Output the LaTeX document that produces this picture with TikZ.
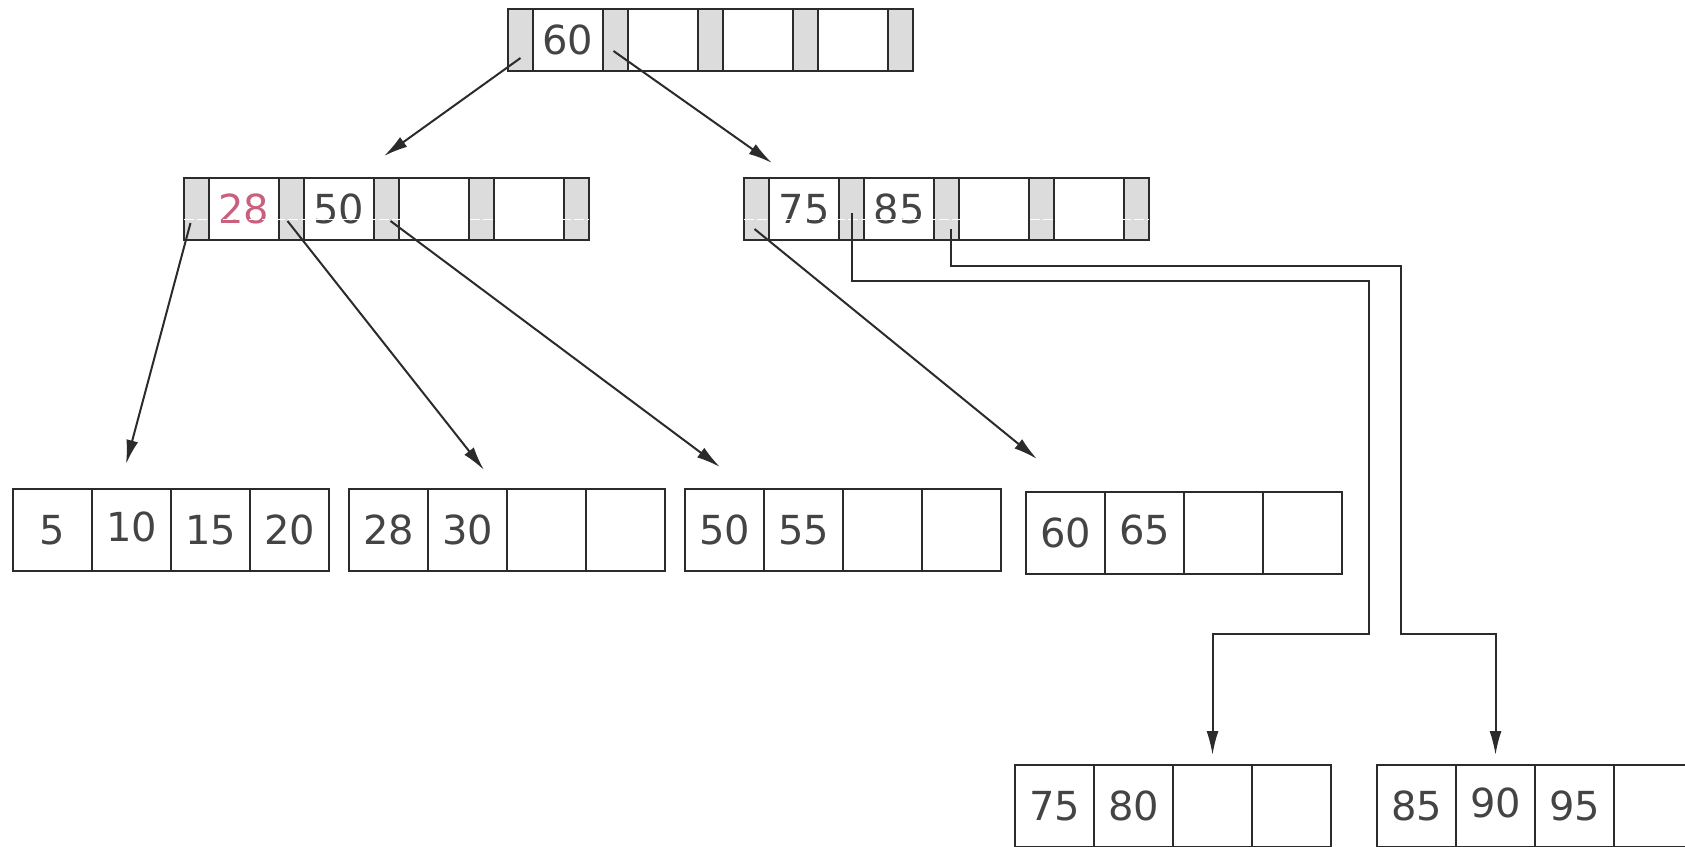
\documentclass[tikz,border=0pt]{standalone}
\usepackage{fontspec}
\newfontfamily\cellfont{DejaVu Sans}
\usepackage{xcolor}
\definecolor{PtrGray}{HTML}{DCDCDC}
\definecolor{LineGray}{HTML}{2B2B2B}
\definecolor{KeyText}{HTML}{444444}
\definecolor{SplitPink}{HTML}{C8607E}
\usetikzlibrary{arrows.meta,positioning}

\begin{document}
\begin{tikzpicture}[x=0.5pt,y=-0.5pt,>={Latex[length=12pt,width=6pt]},
cell/.style={draw=LineGray,line width=1pt,inner sep=0pt,outer sep=0pt,text=KeyText,font=\cellfont\fontsize{20}{24}\selectfont},
ptrcell/.style={cell,fill=PtrGray,minimum width=12.5pt,minimum height=31pt},
keycell/.style={cell,fill=white,minimum width=35pt,minimum height=31pt},
leafcell/.style={cell,fill=white,minimum width=39.5pt,minimum height=41pt},
ptr/.style={->,draw=LineGray,line width=1pt}]
\useasboundingbox (0,0) rectangle (1685,846);
% root
\node[ptrcell,anchor=north west] (r-p0) at (508,9) {};
\node[keycell,right=0pt of r-p0] (r-k1) {60};
\node[ptrcell,right=0pt of r-k1] (r-p1) {};
\node[keycell,right=0pt of r-p1] (r-k2) {};
\node[ptrcell,right=0pt of r-k2] (r-p2) {};
\node[keycell,right=0pt of r-p2] (r-k3) {};
\node[ptrcell,right=0pt of r-k3] (r-p3) {};
\node[keycell,right=0pt of r-p3] (r-k4) {};
\node[ptrcell,right=0pt of r-k4] (r-p4) {};
% inner nodes
\node[ptrcell,anchor=north west] (a-p0) at (184,178) {};
\node[keycell,text=SplitPink,right=0pt of a-p0] (a-k1) {28};
\node[ptrcell,right=0pt of a-k1] (a-p1) {};
\node[keycell,right=0pt of a-p1] (a-k2) {50};
\node[ptrcell,right=0pt of a-k2] (a-p2) {};
\node[keycell,right=0pt of a-p2] (a-k3) {};
\node[ptrcell,right=0pt of a-k3] (a-p3) {};
\node[keycell,right=0pt of a-p3] (a-k4) {};
\node[ptrcell,right=0pt of a-k4] (a-p4) {};
\node[ptrcell,anchor=north west] (b-p0) at (744,178) {};
\node[keycell,right=0pt of b-p0] (b-k1) {75};
\node[ptrcell,right=0pt of b-k1] (b-p1) {};
\node[keycell,right=0pt of b-p1] (b-k2) {85};
\node[ptrcell,right=0pt of b-k2] (b-p2) {};
\node[keycell,right=0pt of b-p2] (b-k3) {};
\node[ptrcell,right=0pt of b-k3] (b-p3) {};
\node[keycell,right=0pt of b-p3] (b-k4) {};
\node[ptrcell,right=0pt of b-k4] (b-p4) {};
\draw[white,line width=0.8pt,dash pattern=on 5pt off 1.5pt] ([yshift=-5.25pt]a-p0.west) -- ([yshift=-5.25pt]a-p4.east);
\draw[white,line width=0.8pt,dash pattern=on 5pt off 1.5pt] ([yshift=-5.25pt]b-p0.west) -- ([yshift=-5.25pt]b-p4.east);
% leaves
\node[leafcell,anchor=north west] (l1-1) at (13,489) {5};
\node[leafcell,right=0pt of l1-1] (l1-2) {\raisebox{3pt}{10}};
\node[leafcell,right=0pt of l1-2] (l1-3) {15};
\node[leafcell,right=0pt of l1-3] (l1-4) {20};
\node[leafcell,anchor=north west] (l2-1) at (349,489) {28};
\node[leafcell,right=0pt of l2-1] (l2-2) {30};
\node[leafcell,right=0pt of l2-2] (l2-3) {};
\node[leafcell,right=0pt of l2-3] (l2-4) {};
\node[leafcell,anchor=north west] (l3-1) at (685,489) {50};
\node[leafcell,right=0pt of l3-1] (l3-2) {55};
\node[leafcell,right=0pt of l3-2] (l3-3) {};
\node[leafcell,right=0pt of l3-3] (l3-4) {};
\node[leafcell,anchor=north west] (l4-1) at (1026,492) {60};
\node[leafcell,right=0pt of l4-1] (l4-2) {\raisebox{3pt}{65}};
\node[leafcell,right=0pt of l4-2] (l4-3) {};
\node[leafcell,right=0pt of l4-3] (l4-4) {};
\node[leafcell,anchor=north west] (l5-1) at (1015,765) {75};
\node[leafcell,right=0pt of l5-1] (l5-2) {80};
\node[leafcell,right=0pt of l5-2] (l5-3) {};
\node[leafcell,right=0pt of l5-3] (l5-4) {};
\node[leafcell,anchor=north west] (l6-1) at (1377,765) {85};
\node[leafcell,right=0pt of l6-1] (l6-2) {\raisebox{3pt}{90}};
\node[leafcell,right=0pt of l6-2] (l6-3) {95};
\node[leafcell,right=0pt of l6-3] (l6-4) {};
% pointer ends and bends
\coordinate (a-tip) at (384,156);
\coordinate (b-tip) at (772,163);
\coordinate (l1-tip) at (126,464);
\coordinate (l2-tip) at (484,470);
\coordinate (l3-tip) at (720,467);
\coordinate (l4-tip) at (1037,459);
\coordinate (j5a) at (1369,281);
\coordinate (j5b) at (1369,634);
\coordinate (j6a) at (1401,266);
\coordinate (j6b) at (1401,634);
\draw[ptr] ([yshift=-9pt]r-p0.center) -- (a-tip);
\draw[ptr] ([xshift=-1pt,yshift=-5.5pt]r-p1.center) -- (b-tip);
\draw[ptr] ([xshift=-3pt,yshift=-7pt]a-p0.center) -- (l1-tip);
\draw[ptr] ([xshift=-2pt,yshift=-6pt]a-p1.center) -- (l2-tip);
\draw[ptr] ([xshift=2pt,yshift=-6pt]a-p2.center) -- (l3-tip);
\draw[ptr] ([xshift=-1pt,yshift=-10pt]b-p0.center) -- (l4-tip);
\draw[ptr,shorten >=5pt] ([yshift=-2pt]b-p1.center) |- (j5a) -- (j5b) -| (l5-3.north);
\draw[ptr,shorten >=5pt] ([xshift=2pt,yshift=-10pt]b-p2.center) |- (j6a) -- (j6b) -| (l6-2.north);
\end{tikzpicture}
\end{document}
